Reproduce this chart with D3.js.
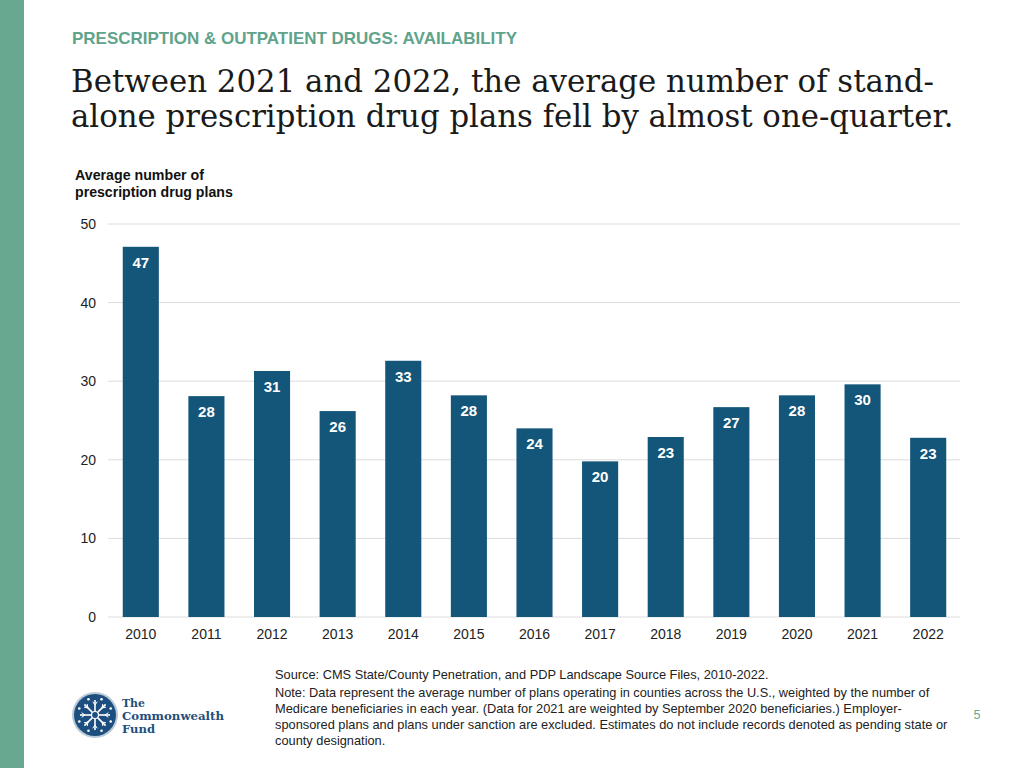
<!DOCTYPE html>
<html><head><meta charset="utf-8">
<script src="https://cdn.jsdelivr.net/npm/d3@7/dist/d3.min.js"></script>
<style>body{margin:0;background:#fff;} svg{display:block;}</style>
</head><body>
<svg id="chart" width="1024" height="768"></svg>
<script>
const years = ["2010","2011","2012","2013","2014","2015","2016","2017","2018","2019","2020","2021","2022"];
const values = [47.1, 28.1, 31.3, 26.2, 32.6, 28.2, 24.0, 19.8, 22.9, 26.7, 28.2, 29.6, 22.8];
const labels = ["47","28","31","26","33","28","24","20","23","27","28","30","23"];
const yTicks = [0, 10, 20, 30, 40, 50];
const noteLines = [
  "Note: Data represent the average number of plans operating in counties across the U.S., weighted by the number of",
  "Medicare beneficiaries in each year. (Data for 2021 are weighted by September 2020 beneficiaries.) Employer-",
  "sponsored plans and plans under sanction are excluded. Estimates do not include records denoted as pending state or",
  "county designation."
];

const svg = d3.select("#chart");
const sans = "'Liberation Sans', Arial, Helvetica, sans-serif";
const serif = "'DejaVu Serif', Georgia, serif";
const barColor = "#135679";
const teal = "#68a891";

function fitWidth(sel, target){
  const fs = +sel.attr("font-size");
  const w = sel.node().getComputedTextLength();
  sel.attr("font-size", fs*target/w);
}

svg.append("rect").attr("x",0).attr("y",0).attr("width",24).attr("height",768).attr("fill",teal);

svg.append("text").attr("x",72).attr("y",44).attr("font-family",sans).attr("font-weight","bold")
  .attr("font-size",16).attr("fill","#5fa38b").text("PRESCRIPTION & OUTPATIENT DRUGS: AVAILABILITY")
  .call(fitWidth, 517-72);

const titleLines = ["Between 2021 and 2022, the average number of stand-","alone prescription drug plans fell by almost one-quarter."];
const titleWidths = [935-72, 955-72];
titleLines.forEach((t,i)=>{
  svg.append("text").attr("x",71).attr("y",92+i*35).attr("font-family",serif)
    .attr("font-size",34).attr("fill","#1a1a1a").text(t).call(fitWidth, titleWidths[i]);
});

svg.append("text").attr("x",75).attr("y",180).attr("font-family",sans).attr("font-weight","bold")
  .attr("font-size",14).attr("fill","#111").text("Average number of").call(fitWidth, 204-75);
svg.append("text").attr("x",75).attr("y",197).attr("font-family",sans).attr("font-weight","bold")
  .attr("font-size",14).attr("fill","#111").text("prescription drug plans").call(fitWidth, 233-75);

const x = d3.scaleBand().domain(years).range([108, 961]).paddingInner(0.45).paddingOuter(0.225);
const y = d3.scaleLinear().domain([0,50]).range([617,224]);

const g = svg.append("g");
g.selectAll("line.grid").data(yTicks).join("line").attr("class","grid")
  .attr("x1",108).attr("x2",960).attr("y1",d=>y(d)).attr("y2",d=>y(d))
  .attr("stroke","#dcdcdc").attr("stroke-width",1);

g.selectAll("text.yt").data(yTicks).join("text").attr("class","yt")
  .attr("x",96).attr("y",d=>y(d)+5).attr("text-anchor","end")
  .attr("font-family",sans).attr("font-size",14).attr("fill","#222").text(d=>d);

g.selectAll("rect.bar").data(values).join("rect").attr("class","bar")
  .attr("x",(d,i)=>x(years[i])).attr("width",x.bandwidth())
  .attr("y",d=>y(d)).attr("height",d=>y(0)-y(d)).attr("fill",barColor);

g.selectAll("text.vl").data(values).join("text").attr("class","vl")
  .attr("x",(d,i)=>x(years[i])+x.bandwidth()/2).attr("y",d=>y(d)+21)
  .attr("text-anchor","middle").attr("font-family",sans).attr("font-weight","bold")
  .attr("font-size",15).attr("fill","#fff").text((d,i)=>labels[i]);

g.selectAll("text.xt").data(years).join("text").attr("class","xt")
  .attr("x",d=>x(d)+x.bandwidth()/2).attr("y",639).attr("text-anchor","middle")
  .attr("font-family",sans).attr("font-size",14).attr("fill","#222").text(d=>d);

svg.append("text").attr("x",275).attr("y",679).attr("font-family",sans).attr("font-size",12.8)
  .attr("fill","#222").text("Source: CMS State/County Penetration, and PDP Landscape Source Files, 2010\u20112022.");
noteLines.forEach((t,i)=>{
  const s = svg.append("text").attr("x",275).attr("y",697+i*16).attr("font-family",sans).attr("font-size",12.8)
    .attr("fill","#222").text(t);
  if(i===0) s.call(fitWidth, 930-275);
  else s.attr("font-size", +svg.select("text").attr("font-size") && null).attr("font-size", 12.8);
});

svg.append("text").attr("x",977).attr("y",719).attr("text-anchor","middle").attr("font-family",sans)
  .attr("font-size",12.5).attr("fill",teal).text("5");

// logo
const lg = svg.append("g").attr("transform","translate(95,715)");
lg.append("circle").attr("r",23).attr("fill","#b9c9d6");
lg.append("circle").attr("r",21).attr("fill","#1c4f7f");
for(let k=0;k<8;k++){
  const a = k*Math.PI/4;
  const ca=Math.cos(a), sa=Math.sin(a);
  lg.append("line").attr("x1",ca*4).attr("y1",sa*4).attr("x2",ca*15).attr("y2",sa*15)
    .attr("stroke","#fff").attr("stroke-width",1.6);
  [-1,1].forEach(s=>{
    const b=a+s*0.6;
    lg.append("line").attr("x1",ca*10).attr("y1",sa*10).attr("x2",ca*10+Math.cos(b)*4).attr("y2",sa*10+Math.sin(b)*4)
      .attr("stroke","#fff").attr("stroke-width",1);
  });
  const a2=a+Math.PI/8;
  lg.append("circle").attr("cx",Math.cos(a2)*17).attr("cy",Math.sin(a2)*17).attr("r",1.3).attr("fill","#fff");
}
lg.append("circle").attr("r",3.5).attr("fill","#1c4f7f").attr("stroke","#fff").attr("stroke-width",1.2);

const logoText = ["The","Commonwealth","Fund"];
const logoW = [23, 102, 33];
logoText.forEach((t,i)=>{
  svg.append("text").attr("x",122).attr("y",707+i*13).attr("font-family","'DejaVu Serif', serif")
    .attr("font-weight","bold").attr("font-size",11).attr("fill","#1f4f7c").text(t)
    .attr("textLength",logoW[i]).attr("lengthAdjust","spacingAndGlyphs");
});
</script>
</body></html>
